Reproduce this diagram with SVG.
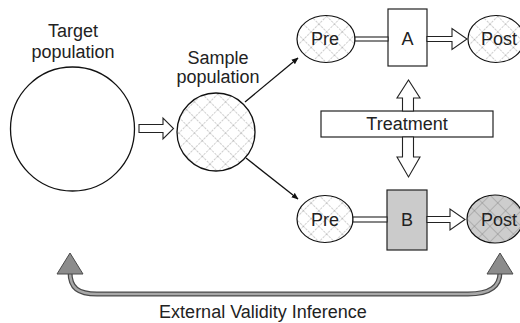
<svg xmlns="http://www.w3.org/2000/svg" width="520" height="323" viewBox="0 0 520 323">
<style>
.t{font-family:"Liberation Sans",Arial,sans-serif;font-size:18px;fill:#222;text-anchor:middle}
.ln{fill:none;stroke:#111;stroke-width:1.3}
.ho{fill:#fff;stroke:#222;stroke-width:1.1;stroke-linejoin:miter}
.box{fill:#fff;stroke:#222;stroke-width:1.2}
</style>
<defs>
<pattern id="hatch" width="11" height="11" patternUnits="userSpaceOnUse" patternTransform="rotate(45)">
<rect width="11" height="11" fill="#fff"/>
<path d="M0,0H11M0,0V11" stroke="#888" stroke-width="0.8" stroke-dasharray="2.5,1"/>
</pattern>
<pattern id="hatchg" width="11" height="11" patternUnits="userSpaceOnUse" patternTransform="rotate(45)">
<rect width="11" height="11" fill="#cdcdcd"/>
<path d="M0,0H11M0,0V11" stroke="#808080" stroke-width="0.8"/>
</pattern>
<marker id="ah" viewBox="0 0 10 10" refX="9" refY="5" markerWidth="7" markerHeight="7" orient="auto" markerUnits="userSpaceOnUse">
<path d="M0,1 L10,5 L0,9 Z" fill="#111"/>
</marker>
</defs>
<rect width="520" height="323" fill="#fff"/>

<g id="target">
<circle cx="72.5" cy="129" r="62" class="ln"/>
<text class="t" x="73" y="37">Target</text>
<text class="t" x="73" y="58">population</text>
</g>

<g id="sample">
<circle cx="216" cy="132" r="39" fill="url(#hatch)" stroke="#111" stroke-width="1.3"/>
<text class="t" x="218" y="64">Sample</text>
<text class="t" x="218" y="83">population</text>
</g>

<g id="preA">
<ellipse cx="326" cy="39" rx="29" ry="23.5" fill="url(#hatch)" stroke="#111" stroke-width="1.2"/>
<text class="t" x="325" y="45">Pre</text>
</g>
<g id="boxA">
<rect x="388" y="9" width="39" height="57" class="box"/>
<text class="t" x="407.5" y="45">A</text>
</g>
<g id="postA">
<ellipse cx="496" cy="39" rx="28" ry="23.5" fill="url(#hatch)" stroke="#111" stroke-width="1.2"/>
<text class="t" x="499" y="45">Post</text>
</g>

<g id="treatment">
<rect x="321" y="111" width="172" height="26" class="box"/>
<text class="t" x="407" y="130">Treatment</text>
</g>

<g id="preB">
<ellipse cx="325" cy="219" rx="28" ry="23.5" fill="url(#hatch)" stroke="#111" stroke-width="1.2"/>
<text class="t" x="325" y="226">Pre</text>
</g>
<g id="boxB">
<rect x="387" y="190" width="40" height="60" fill="#cbcbcb" stroke="#222" stroke-width="1.2"/>
<text class="t" x="407" y="226">B</text>
</g>
<g id="postB">
<ellipse cx="495" cy="219" rx="28" ry="24" fill="url(#hatchg)" stroke="#111" stroke-width="1.2"/>
<text class="t" x="499" y="226">Post</text>
</g>

<g id="connectors">
<path class="ho" d="M139,124.5 H163 V118 L173.5,128.5 L163,139 V132.5 H139 Z"/>
<line x1="245" y1="102" x2="298" y2="58" class="ln" marker-end="url(#ah)"/>
<line x1="246" y1="158" x2="298" y2="199" class="ln" marker-end="url(#ah)"/>
<rect x="355" y="37" width="33" height="4" class="ho"/>
<path class="ho" d="M427,36.5 H452 V28.5 L467,39 L452,49.5 V41.5 H427 Z"/>
<rect x="353" y="217" width="34" height="5" class="ho"/>
<path class="ho" d="M427,216.5 H450 V209 L465,219.5 L450,230 V222.5 H427 Z"/>
<path class="ho" d="M402.5,111 V98 H397 L408.5,80 L420,98 H413.5 V111 Z"/>
<path class="ho" d="M402.5,137 V157 H397 L408.5,177 L420,157 H413.5 V137 Z"/>
<path d="M70,272 C70,288 78,294 97,294 L468,294 C490,294 500,287 500,272" fill="none" stroke="#4a4a4a" stroke-width="5"/>
<path d="M70,272 C70,288 78,294 97,294 L468,294 C490,294 500,287 500,272" fill="none" stroke="#a8a8a8" stroke-width="2.5"/>
<path d="M70,253 L83,274 L57,274 Z" fill="#8c8c8c" stroke="#4a4a4a" stroke-width="1"/>
<path d="M500,253 L513,274 L487,274 Z" fill="#8c8c8c" stroke="#4a4a4a" stroke-width="1"/>
</g>
<text class="t" x="263" y="318">External Validity Inference</text>
</svg>
